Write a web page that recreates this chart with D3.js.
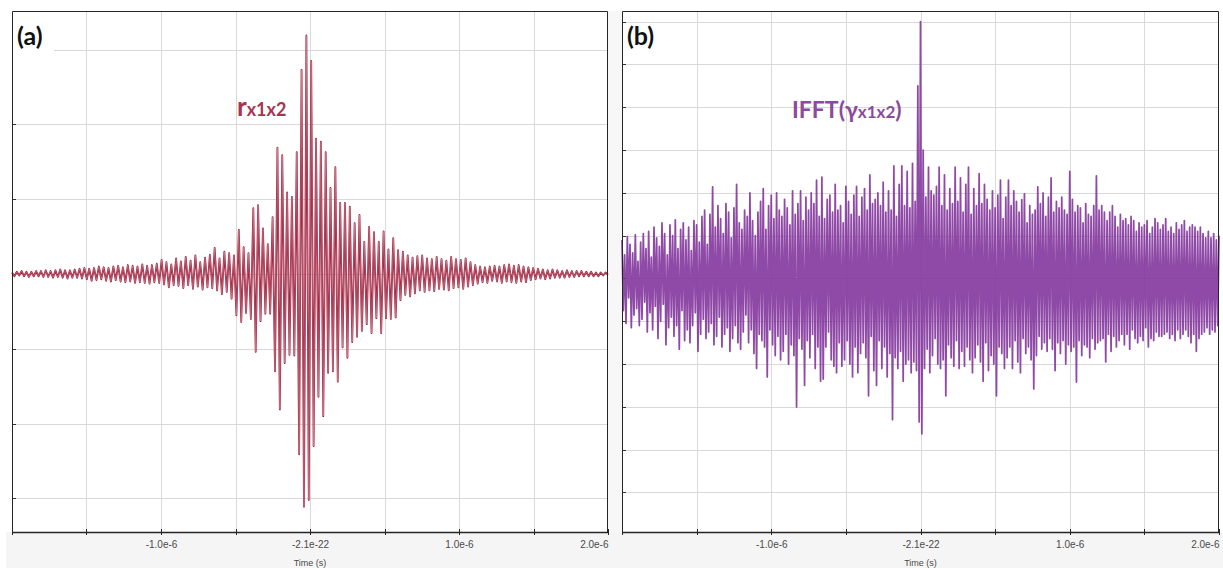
<!DOCTYPE html>
<html>
<head>
<meta charset="utf-8">
<script src="https://cdn.jsdelivr.net/npm/d3@7/dist/d3.min.js"></script>
<style>
  html, body { margin: 0; padding: 0; background: #ffffff; }
  svg { display: block; }
</style>
</head>
<body>
<svg id="chart" width="1223" height="568"></svg>
<script>
// Time axis (seconds)
const timeRange = [-2e-6, 2e-6];
const xTickValues = [-2e-6, -1.5e-6, -1e-6, -0.5e-6, -2.1e-22, 0.5e-6, 1e-6, 1.5e-6, 2e-6];
const xTickLabels = ["", "", "-1.0e-6", "", "-2.1e-22", "", "1.0e-6", "", "2.0e-6"];
const xAxisTitle = "Time (s)";

// Vertical grid levels (arbitrary amplitude units)
const yTicksA = [-3, -2, -1, 0, 1, 2, 3];
const yTicksB = [-5, -4, -3, -2, -1, 0, 1, 2, 3, 4, 5, 6];

// (a) cross-correlation r_x1x2, successive extremes sampled uniformly over the time range
const rx1x2 = [
  0.02, -0.03, 0.03, -0.02, 0.04, -0.03, 0.03, -0.04, 0.03, -0.03,
  0.04, -0.03, 0.04, -0.04, 0.05, -0.04, 0.04, -0.05, 0.05, -0.04,
  0.06, -0.05, 0.05, -0.06, 0.05, -0.05, 0.06, -0.05, 0.07, -0.06,
  0.08, -0.07, 0.07, -0.09, 0.08, -0.08, 0.10, -0.07, 0.09, -0.09,
  0.08, -0.10, 0.10, -0.08, 0.11, -0.10, 0.09, -0.11, 0.12, -0.10,
  0.11, -0.12, 0.10, -0.11, 0.13, -0.12, 0.11, -0.13, 0.12, -0.11,
  0.14, -0.12, 0.19, -0.14, 0.16, -0.18, 0.13, -0.15, 0.21, -0.16,
  0.17, -0.19, 0.23, -0.15, 0.18, -0.20, 0.25, -0.17, 0.16, -0.21,
  0.22, -0.18, 0.26, -0.19, 0.35, -0.22, 0.21, -0.27, 0.30, -0.24,
  0.28, -0.33, 0.25, -0.55, 0.59, -0.64, 0.36, -0.52, 0.28, -0.60,
  0.88, -1.04, 0.92, -0.63, 0.61, -0.53, 0.40, -0.53, 0.76, -1.30,
  1.69, -1.81, 1.59, -1.19, 1.09, -1.08, 1.03, -1.09, 1.63, -2.41,
  2.73, -3.11, 3.19, -3.02, 2.85, -2.30, 1.81, -1.64, 1.77, -1.90,
  1.63, -1.32, 1.15, -1.30, 1.43, -1.44, 0.95, -0.98, 0.95, -1.12,
  0.90, -0.91, 0.68, -0.84, 0.79, -0.76, 0.43, -0.67, 0.63, -0.79,
  0.56, -0.59, 0.43, -0.79, 0.57, -0.59, 0.33, -0.60, 0.48, -0.58,
  0.32, -0.35, 0.30, -0.28, 0.25, -0.30, 0.22, -0.26, 0.24, -0.22,
  0.25, -0.24, 0.21, -0.22, 0.20, -0.23, 0.23, -0.20, 0.20, -0.21,
  0.18, -0.22, 0.23, -0.19, 0.20, -0.18, 0.19, -0.20, 0.21, -0.17,
  0.16, -0.15, 0.12, -0.13, 0.10, -0.11, 0.09, -0.12, 0.10, -0.09,
  0.11, -0.10, 0.10, -0.12, 0.12, -0.10, 0.13, -0.11, 0.11, -0.12,
  0.12, -0.10, 0.10, -0.11, 0.09, -0.08, 0.08, -0.07, 0.07, -0.06,
  0.06, -0.07, 0.05, -0.06, 0.06, -0.05, 0.05, -0.05, 0.04, -0.05,
  0.05, -0.04, 0.04, -0.04, 0.04, -0.03, 0.04, -0.03, 0.03, -0.03,
  0.03, -0.03, 0.02, -0.03, 0.02, -0.02, 0.02, -0.01
];

// (b) inverse FFT of the coherence gamma_x1x2, successive extremes sampled uniformly
const ifftGamma = [
  0.90, -0.75, 0.55, -1.05, 0.98, -0.45, 0.80, -1.15, 0.60, -0.85,
  1.02, -0.70, 0.40, -1.10, 0.85, -0.95, 1.05, -0.55, 0.70, -1.25,
  1.10, -0.80, 0.50, -1.20, 1.20, -0.65, 0.95, -1.40, 0.75, -1.00,
  1.30, -0.60, 1.05, -1.55, 0.55, -1.15, 1.25, -0.90, 1.00, -1.35,
  1.37, -1.10, 0.70, -1.65, 1.15, -0.75, 1.30, -1.45, 0.90, -1.20,
  1.20, -1.50, 0.65, -1.10, 1.35, -0.80, 1.25, -1.70, 0.85, -1.30,
  1.45, -0.95, 1.60, -1.40, 0.80, -1.25, 1.50, -1.05, 2.14, -1.55,
  1.20, -1.35, 1.70, -0.90, 1.40, -1.60, 1.05, -1.30, 1.75, -1.15,
  1.55, -1.70, 0.95, -1.40, 1.65, -1.10, 2.20, -1.50, 1.30, -1.65,
  1.15, -1.25, 1.60, -0.85, 1.45, -1.50, 2.00, -1.20, 1.35, -1.75,
  1.00, -2.10, 1.55, -1.30, 1.80, -1.45, 2.10, -1.60, 1.15, -2.30,
  1.70, -1.20, 1.95, -1.55, 1.40, -1.80, 2.00, -1.35, 1.60, -1.90,
  1.45, -1.70, 1.85, -1.30, 1.65, -2.00, 1.25, -1.55, 2.05, -1.80,
  1.50, -3.00, 1.75, -1.40, 2.05, -1.65, 1.35, -2.50, 1.90, -1.45,
  1.60, -1.85, 2.00, -1.30, 1.75, -2.10, 2.30, -1.60, 1.45, -2.40,
  2.37, -2.35, 1.40, -1.60, 1.85, -1.25, 1.95, -1.90, 1.55, -2.05,
  2.20, -2.20, 1.60, -1.50, 1.70, -2.05, 1.30, -1.90, 2.15, -1.45,
  1.80, -2.00, 1.50, -2.30, 1.95, -1.60, 2.15, -2.20, 1.45, -1.75,
  1.90, -1.50, 2.10, -1.85, 1.60, -2.74, 2.42, -1.35, 1.75, -2.15,
  1.85, -2.50, 2.00, -1.45, 1.70, -2.10, 2.25, -1.60, 1.55, -2.30,
  2.05, -1.75, 1.60, -3.30, 2.63, -1.85, 1.45, -2.10, 2.20, -1.70,
  2.63, -2.40, 1.70, -2.00, 2.50, -1.90, 1.65, -2.20, 2.69, -1.95,
  1.80, -2.15, 4.50, -3.35, 6.00, -3.63, 3.00, -2.10, 1.90,
  -1.65, 2.60, -2.20, 2.05, -1.80, 1.95, -1.40, 2.15, -2.00, 2.60,
  -2.10, 1.70, -1.90, 2.42, -2.74, 1.60, -1.55, 2.10, -1.85, 1.75,
  -2.05, 2.60, -1.45, 1.80, -2.10, 2.35, -1.70, 1.55, -2.05, 2.20,
  -1.60, 2.60, -1.90, 1.50, -2.20, 2.10, -1.85, 1.70, -1.55, 2.45,
  -1.95, 1.75, -2.40, 2.20, -1.50, 1.85, -2.15, 1.60, -1.80, 2.05,
  -2.00, 1.65, -2.74, 1.95, -1.60, 2.30, -1.75, 1.40, -2.10, 1.90,
  -1.85, 2.30, -1.60, 1.70, -2.10, 2.05, -1.45, 1.80, -1.95, 1.55,
  -2.20, 1.84, -1.40, 1.98, -1.75, 1.30, -1.60, 1.70, -1.90, 1.50,
  -2.58, 1.60, -1.80, 2.14, -1.35, 1.75, -1.65, 2.00, -1.50, 1.45,
  -1.70, 1.90, -1.40, 2.35, -1.65, 1.55, -2.15, 1.80, -1.50, 1.65,
  -1.75, 1.90, -1.45, 1.60, -2.00, 1.50, -1.55, 2.50, -1.70, 1.85,
  -1.60, 1.55, -2.42, 1.70, -1.45, 1.65, -1.80, 1.30, -1.55, 1.75,
  -1.60, 1.50, -1.85, 1.45, -1.40, 1.70, -1.65, 2.40, -1.50, 1.60,
  -1.45, 1.70, -1.40, 1.55, -1.95, 1.35, -1.30, 1.55, -1.70, 1.70,
  -1.35, 1.45, -1.60, 1.20, -1.45, 1.50, -1.30, 1.35, -1.55, 1.40,
  -1.30, 1.25, -1.65, 1.45, -1.20, 1.35, -1.40, 1.10, -1.50, 1.30,
  -1.35, 1.20, -1.45, 1.25, -1.15, 1.35, -1.60, 1.05, -1.40, 1.20,
  -1.45, 1.40, -1.25, 1.30, -1.35, 1.15, -1.35, 1.25, -1.30, 1.40,
  -1.25, 1.10, -1.40, 1.20, -1.30, 1.05, -1.45, 1.30, -1.20, 1.15,
  -1.40, 1.25, -1.30, 1.35, -1.20, 1.10, -1.35, 1.20, -1.50, 1.25,
  -1.30, 1.20, -1.70, 1.10, -1.40, 1.20, -1.30, 1.05, -1.25, 0.95,
  -1.15, 1.10, -1.30, 0.95, -1.20, 1.05, -1.25, 0.90, -1.10, 1.00
];

const svg = d3.select("#chart");
const W = 1223, H = 568;

// light grey strips around the plot frames
svg.append("rect").attr("x", 6).attr("y", 532).attr("width", W - 6).attr("height", H - 532).attr("fill", "#f5f5f5");
svg.append("rect").attr("x", 608).attr("y", 11).attr("width", 14).attr("height", 521).attr("fill", "#f7f7f7");

function drawPanel(cfg) {
  const g = svg.append("g");
  const x = d3.scaleLinear().domain(timeRange).range([cfg.left, cfg.right]);
  const y = d3.scaleLinear().domain(cfg.yDomain).range([cfg.bottom, cfg.top]);

  g.append("rect").attr("x", cfg.left).attr("y", cfg.top)
    .attr("width", cfg.right - cfg.left).attr("height", cfg.bottom - cfg.top).attr("fill", "#ffffff");

  // grid
  g.append("g").selectAll("line").data(xTickValues.slice(1, -1)).join("line")
    .attr("x1", d => Math.round(x(d)) + 0.5).attr("x2", d => Math.round(x(d)) + 0.5)
    .attr("y1", cfg.top).attr("y2", cfg.bottom)
    .attr("stroke", "#d9d9d9").attr("stroke-width", 1);
  g.append("g").selectAll("line").data(cfg.yTicks).join("line")
    .attr("x1", cfg.left).attr("x2", cfg.right)
    .attr("y1", d => Math.round(y(d)) + 0.5).attr("y2", d => Math.round(y(d)) + 0.5)
    .attr("stroke", "#d9d9d9").attr("stroke-width", 1);

  // left inner ticks
  g.append("g").selectAll("line").data(cfg.yTicks).join("line")
    .attr("x1", cfg.left).attr("x2", cfg.left + 4)
    .attr("y1", d => Math.round(y(d)) + 0.5).attr("y2", d => Math.round(y(d)) + 0.5)
    .attr("stroke", "#333").attr("stroke-width", 1);

  // signal
  const n = cfg.values.length;
  const dt = (timeRange[1] - timeRange[0]) / (n - 1);
  const pts = cfg.values.map((v, i) => [timeRange[0] + i * dt, v]);
  const line = d3.line().x(d => x(d[0])).y(d => y(d[1]));
  cfg.strokes.forEach(s => {
    g.append("path").datum(pts).attr("d", line)
      .attr("fill", "none").attr("stroke", s.color).attr("stroke-width", s.width)
      .attr("stroke-opacity", s.opacity).attr("stroke-linejoin", "round");
  });

  // frame
  g.append("path")
    .attr("d", `M${cfg.left + 0.5},${cfg.bottom} V${cfg.top + 0.5} H${cfg.right - 0.5} V${cfg.bottom}`)
    .attr("fill", "none").attr("stroke", "#262626").attr("stroke-width", 1);

  // bottom axis
  const xAxis = d3.axisBottom(x).tickValues(xTickValues)
    .tickFormat((d, i) => xTickLabels[i]).tickSize(0).tickPadding(9);
  const ax = g.append("g").attr("transform", `translate(0,${cfg.bottom})`).call(xAxis);
  ax.select(".domain").attr("stroke", "#262626").attr("stroke-width", 1.6);
  ax.selectAll(".tick text").attr("fill", "#4a4a4a")
    .style("font-family", "'Liberation Sans', Arial, sans-serif").style("font-size", "10px")
    .attr("text-anchor", (d, i) => i === xTickValues.length - 1 ? "end" : "middle");
  g.append("g").selectAll("line").data(xTickValues).join("line")
    .attr("x1", d => Math.round(x(d)) + 0.5).attr("x2", d => Math.round(x(d)) + 0.5)
    .attr("y1", cfg.bottom - 3).attr("y2", cfg.bottom + 3)
    .attr("stroke", "#262626").attr("stroke-width", 1);

  g.append("text").attr("x", (cfg.left + cfg.right) / 2).attr("y", 566)
    .attr("text-anchor", "middle").attr("fill", "#4a4a4a")
    .style("font-family", "'Liberation Sans', Arial, sans-serif").style("font-size", "9px")
    .text(xAxisTitle);

  // panel tag
  g.append("rect").attr("x", cfg.left + 1).attr("y", cfg.top + 12).attr("width", 41).attr("height", 29).attr("fill", "#ffffff");
  g.append("text").attr("x", cfg.left + 5).attr("y", cfg.top + 34)
    .style("font-family", "Lato, 'Open Sans', sans-serif").style("font-weight", "bold").style("font-size", "25px")
    .attr("fill", "#111").text(cfg.tag);

  // series label
  const t = g.append("text").attr("x", cfg.labelX).attr("y", cfg.labelY)
    .style("font-family", "Lato, 'Open Sans', sans-serif").style("font-weight", "bold")
    .attr("fill", cfg.labelColor);
  cfg.labelParts.forEach(p => t.append("tspan").style("font-size", p.size + "px").text(p.text));
}

drawPanel({
  left: 12, right: 608, top: 11, bottom: 532,
  yDomain: [-3.449, 3.516], yTicks: yTicksA, values: rx1x2,
  strokes: [
    { color: "#9a1a37", width: 1.8, opacity: 1 },
    { color: "#f0bcc8", width: 0.45, opacity: 0.85 }
  ],
  tag: "(a)", labelX: 237, labelY: 116, labelColor: "#a6354f",
  labelParts: [{ text: "r", size: 26 }, { text: "x1x2", size: 18 }]
});

drawPanel({
  left: 622, right: 1219, top: 11, bottom: 532,
  yDomain: [-5.923, 6.25], yTicks: yTicksB, values: ifftGamma,
  strokes: [
    { color: "#80309a", width: 1.75, opacity: 0.88 }
  ],
  tag: "(b)", labelX: 792, labelY: 118, labelColor: "#8b4a9e",
  labelParts: [{ text: "IFFT(", size: 23 }, { text: "γ", size: 23 }, { text: "x1x2", size: 17 }, { text: ")", size: 23 }]
});
</script>
</body>
</html>
